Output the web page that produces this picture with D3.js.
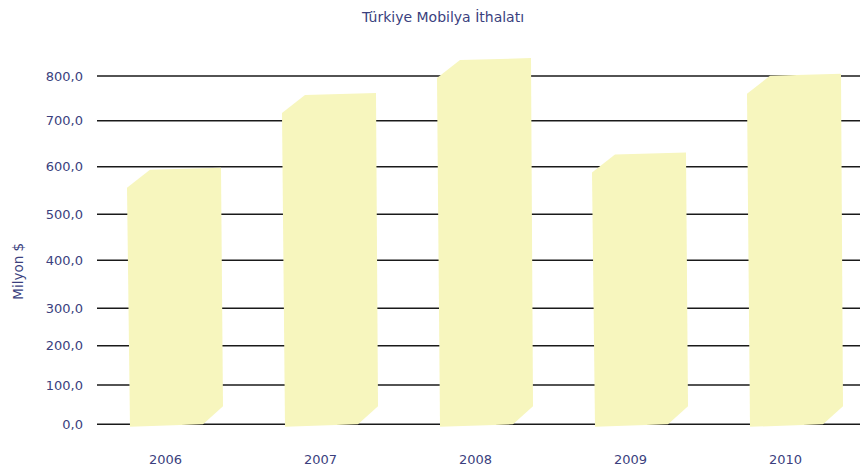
<!DOCTYPE html>
<html>
<head>
<meta charset="utf-8">
<script src="https://cdn.jsdelivr.net/npm/d3@7/dist/d3.min.js"></script>
<style>
  html, body { margin: 0; padding: 0; background: #ffffff; }
  svg { display: block; }
  text { font-family: "DejaVu Sans", sans-serif; fill: #3b3f7e; }
</style>
</head>
<body>
<svg id="chart" width="860" height="473"></svg>
<script>
// ---- data ----
const title = "Türkiye Mobilya İthalatı";
const yTitle = "Milyon $";
const years = ["2006", "2007", "2008", "2009", "2010"];
const imports = [598, 762, 840, 631, 805];
const yTicks = [0, 100, 200, 300, 400, 500, 600, 700, 800];

// ---- layout ----
const W = 860, H = 473;
const svg = d3.select("#chart");

// the reference axis is slightly non-uniform; map each tick to its position
const y = d3.scaleLinear()
  .domain(yTicks)
  .range([424.3, 385, 345.7, 308.3, 260.3, 214.3, 166.7, 120.7, 76]);

const x = d3.scaleBand()
  .domain(years)
  .range([97, 872])
  .paddingInner(0.4)
  .paddingOuter(0.2);

const fmt = d3.formatLocale({decimal: ",", thousands: ".", grouping: [3], currency: ["", ""]}).format(".1f");

// title
svg.append("text")
  .attr("x", 443).attr("y", 17)
  .attr("text-anchor", "middle")
  .attr("dominant-baseline", "central")
  .style("font-size", "14px")
  .text(title);

// y title
svg.append("text")
  .attr("transform", `translate(18,${(y(300) + y(500)) / 2 + 10}) rotate(-90)`)
  .attr("text-anchor", "middle")
  .attr("dominant-baseline", "central")
  .style("font-size", "13.5px")
  .text(yTitle);

// grid lines
svg.append("g")
  .selectAll("line")
  .data(yTicks)
  .join("line")
  .attr("x1", 97).attr("x2", W)
  .attr("y1", d => y(d)).attr("y2", d => y(d))
  .attr("stroke", "#1a1a1a")
  .attr("stroke-width", 1.6);

// y tick labels
svg.append("g")
  .selectAll("text")
  .data(yTicks)
  .join("text")
  .attr("x", 83)
  .attr("y", d => y(d))
  .attr("text-anchor", "end")
  .attr("dominant-baseline", "central")
  .style("font-size", "13px")
  .text(d => fmt(d));

// bars (pseudo-3D shape with chamfered corners)
const bw = x.bandwidth();
const y0 = y(0);
svg.append("g")
  .selectAll("path")
  .data(years.map((yr, i) => ({yr, v: imports[i]})))
  .join("path")
  .attr("fill", "#f7f6be")
  .attr("d", d => {
    const x0 = x(d.yr), yt = y(d.v);
    const pts = [
      [x0 - 1, yt + 20],
      [x0 + 22, yt + 2],
      [x0 + bw, yt],
      [x0 + bw + 2, y0 - 18],
      [x0 + bw - 18, y0],
      [x0 + 2, y0 + 2.5]
    ];
    return d3.line()(pts) + "Z";
  });

// x labels
svg.append("g")
  .selectAll("text")
  .data(years)
  .join("text")
  .attr("x", d => x(d) + bw / 2 - 9)
  .attr("y", 459)
  .attr("text-anchor", "middle")
  .attr("dominant-baseline", "central")
  .style("font-size", "13px")
  .text(d => d);
</script>
</body>
</html>
